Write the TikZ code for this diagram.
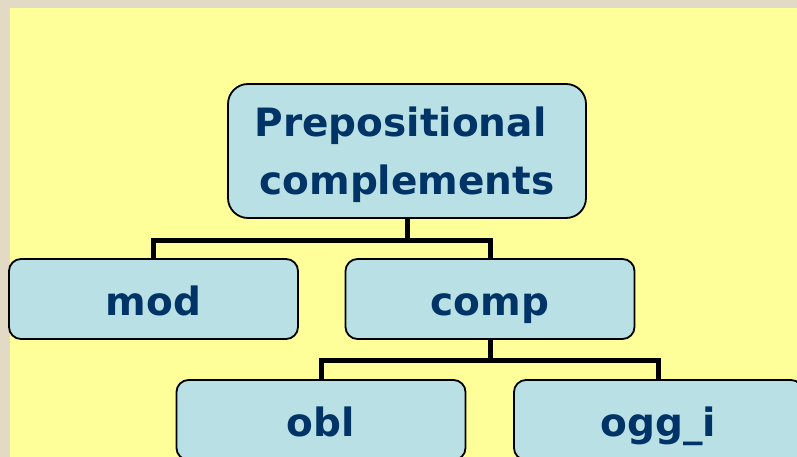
\documentclass[tikz,border=0pt]{standalone}
\usepackage{fontspec}
\setmainfont{DejaVu Sans}
\usepackage{tikz}
\usetikzlibrary{calc}
\definecolor{parch}{RGB}{226,218,196}
\definecolor{pad}{RGB}{255,255,153}
\definecolor{boxfill}{RGB}{185,224,228}
\definecolor{navy}{RGB}{0,51,102}
\begin{document}
\begin{tikzpicture}[x=1pt,y=-1pt,
    box/.style={draw=black,line width=1.8pt,fill=boxfill,rounded corners=12pt,
      minimum width=289pt,minimum height=80pt,inner sep=0pt,
      text height=36pt,text depth=4pt,text=navy,
      font=\fontsize{39}{58}\selectfont\bfseries},
    link/.style={line width=5pt,line join=miter}]
\useasboundingbox (0,0) rectangle (797,457);
\clip (0,0) rectangle (797,457);
\fill[parch] (0,0) rectangle (797,457);
\fill[pad] (10,8) rectangle (797,457);
\node[box,minimum width=358pt,minimum height=134pt,rounded corners=20pt,
      align=center,text height=,text depth=0pt] (prep) at (407,151)
      {Prepositional\kern13pt\\complements};
\node[box] (mod) at (153.5,299) {mod};
\node[box] (comp) at (490,299) {comp};
\node[box] (obl) at (321,420) {obl};
\node[box] (oggi) at (658.5,420) {ogg\_i};
\coordinate (j1) at (407,240);
\coordinate (j2) at (490,360);
\draw[link] (prep.south) -- (j1);
\draw[link] (mod.north) |- (j1) -| (comp.north);
\draw[link] (comp.south) -- (j2);
\draw[link] (obl.north) |- (j2) -| (oggi.north);
\end{tikzpicture}
\end{document}
